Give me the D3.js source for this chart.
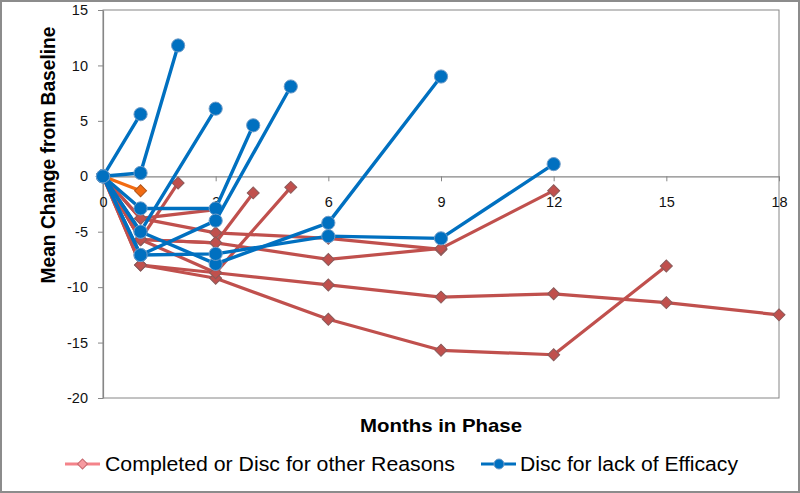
<!DOCTYPE html>
<html>
<head>
<meta charset="utf-8">
<script src="https://cdn.jsdelivr.net/npm/d3@7"></script>
<style>
  html, body { margin: 0; padding: 0; background: #fff; }
  svg { display: block; font-family: "Liberation Sans", Arial, sans-serif; }
</style>
</head>
<body>
<svg id="chart" width="800" height="493"></svg>
<script>
// ---------------- DATA ----------------
const seriesNames = ["Completed or Disc for other Reasons", "Disc for lack of Efficacy"];
const xTicks = [0, 3, 6, 9, 12, 15, 18];
const yTicks = [-20, -15, -10, -5, 0, 5, 10, 15];
const xTitle = "Months in Phase";
const yTitle = "Mean Change from Baseline";

// Completed or discontinued for other reasons (first cohort is the orange one)
const otherMonths = [
  [0, 1],
  [0, 1, 2],
  [0, 1, 3],
  [0, 1, 3, 4],
  [0, 1, 3, 5],
  [0, 1, 3, 6, 9],
  [0, 1, 3, 6, 9, 12],
  [0, 1, 3, 6, 9, 12, 15],
  [0, 1, 3, 6, 9, 12, 15, 18]
];
const otherValues = [
  [0, -1.3],
  [0, -5.7, -0.6],
  [0, -3.8, -3.0],
  [0, -5.7, -6.0, -1.5],
  [0, -8.0, -8.7, -1.0],
  [0, -3.8, -5.1, -5.6, -6.6],
  [0, -5.7, -6.0, -7.5, -6.5, -1.3],
  [0, -8.0, -9.2, -12.9, -15.7, -16.1, -8.1],
  [0, -5.7, -8.7, -9.8, -10.9, -10.6, -11.4, -12.5]
];

// Discontinued for lack of efficacy
const efficacyMonths = [
  [0, 1],
  [0, 1, 2],
  [0, 1, 3],
  [0, 1, 3, 4],
  [0, 1, 3, 5],
  [0, 1, 3, 6, 9],
  [0, 1, 3, 6, 9, 12]
];
const efficacyValues = [
  [0, 5.6],
  [0, 0.3, 11.8],
  [0, -5.0, 6.1],
  [0, -2.9, -2.9, 4.6],
  [0, -7.1, -4.0, 8.1],
  [0, -5.0, -7.9, -4.2, 9.0],
  [0, -7.1, -7.0, -5.4, -5.6, 1.1]
];

// ---------------- DRAW ----------------
const svg = d3.select("#chart");
const W = 800, H = 493;
const plot = { left: 103, right: 779, top: 10, bottom: 398 };

const x = d3.scaleLinear().domain([0, 18]).range([plot.left, plot.right]);
const y = d3.scaleLinear().domain([-20, 15]).range([plot.bottom, plot.top]);

const axisColor = "#868686";
const blue = "#0070C0";
const red = "#C0504D";
const orange = "#F26B12";

// outer chart border
svg.append("rect").attr("x", 1).attr("y", 1).attr("width", W - 2).attr("height", H - 2)
  .attr("fill", "#fff").attr("stroke", "#8c8c8c").attr("stroke-width", 2);

// plot area border
svg.append("rect").attr("x", plot.left).attr("y", plot.top)
  .attr("width", plot.right - plot.left).attr("height", plot.bottom - plot.top)
  .attr("fill", "none").attr("stroke", axisColor).attr("stroke-width", 1);

// Y axis
const yAxis = svg.append("g").attr("transform", `translate(${plot.left},0)`)
  .call(d3.axisLeft(y).tickValues(yTicks).tickFormat(d => String(d))
    .tickSize(5).tickSizeOuter(0).tickPadding(10));
// X axis at y = 0
const xAxis = svg.append("g").attr("transform", `translate(0,${y(0)})`)
  .call(d3.axisBottom(x).tickValues(xTicks).tickFormat(d => String(d))
    .tickSize(5).tickSizeOuter(0).tickPadding(15));

[yAxis, xAxis].forEach(g => {
  g.select(".domain").attr("stroke", axisColor).attr("stroke-width", 1.2);
  g.selectAll(".tick line").attr("stroke", axisColor);
  g.selectAll(".tick text").attr("fill", "#111").attr("font-size", 14.5)
    .attr("font-family", "'Liberation Sans', Arial, sans-serif");
});

// axis titles
svg.append("text").attr("x", 441).attr("y", 432).attr("text-anchor", "middle")
  .attr("font-weight", "bold").attr("font-size", 19)
  .attr("textLength", 162).attr("lengthAdjust", "spacingAndGlyphs")
  .text(xTitle);
svg.append("text").attr("transform", "translate(55,155) rotate(-90)").attr("text-anchor", "middle")
  .attr("font-weight", "bold").attr("font-size", 19.5)
  .attr("textLength", 257).attr("lengthAdjust", "spacingAndGlyphs")
  .text(yTitle);

const line = d3.line().x(d => x(d[0])).y(d => y(d[1]));

function drawSeries(monthsArr, valuesArr, colorFn, marker, lineWidth) {
  monthsArr.forEach((months, i) => {
    const pts = months.map((m, j) => [m, valuesArr[i][j]]);
    const c = colorFn(i);
    const g = svg.append("g");
    g.append("path").attr("d", line(pts)).attr("fill", "none")
      .attr("stroke", c).attr("stroke-width", lineWidth)
      .attr("stroke-linejoin", "round").attr("stroke-linecap", "round");
    if (marker === "diamond") {
      g.selectAll("path.m").data(pts).enter().append("path").attr("class", "m")
        .attr("d", d3.symbol().type(d3.symbolSquare).size(72))
        .attr("transform", d => `translate(${x(d[0])},${y(d[1])}) rotate(45)`)
        .attr("fill", c).attr("stroke", i === 0 ? "#b0561a" : "#8a5a5a").attr("stroke-width", 1);
    } else {
      g.selectAll("circle").data(pts).enter().append("circle")
        .attr("cx", d => x(d[0])).attr("cy", d => y(d[1])).attr("r", 6.6)
        .attr("fill", c).attr("stroke", "#6f9cc8").attr("stroke-width", 1);
    }
  });
}

drawSeries(otherMonths, otherValues, i => (i === 0 ? orange : red), "diamond", 3.2);
drawSeries(efficacyMonths, efficacyValues, () => blue, "circle", 3.4);

// legend
const legY = 464;
const leg = svg.append("g");
leg.append("line").attr("x1", 65).attr("x2", 100).attr("y1", legY).attr("y2", legY)
  .attr("stroke", "#F4838A").attr("stroke-width", 3);
leg.append("path").attr("d", d3.symbol().type(d3.symbolSquare).size(50))
  .attr("transform", `translate(82.5,${legY}) rotate(45)`)
  .attr("fill", "#F79AA0").attr("stroke", "#C86A70").attr("stroke-width", 1);
leg.append("text").attr("x", 105).attr("y", legY + 7).attr("font-size", 20)
  .attr("textLength", 350).attr("lengthAdjust", "spacingAndGlyphs")
  .text(seriesNames[0]);
leg.append("line").attr("x1", 481).attr("x2", 516).attr("y1", legY).attr("y2", legY)
  .attr("stroke", blue).attr("stroke-width", 3);
leg.append("circle").attr("cx", 499).attr("cy", legY).attr("r", 5)
  .attr("fill", blue).attr("stroke", "#6f9cc8").attr("stroke-width", 1);
leg.append("text").attr("x", 520).attr("y", legY + 7).attr("font-size", 20)
  .attr("textLength", 218).attr("lengthAdjust", "spacingAndGlyphs")
  .text(seriesNames[1]);
</script>
</body>
</html>
